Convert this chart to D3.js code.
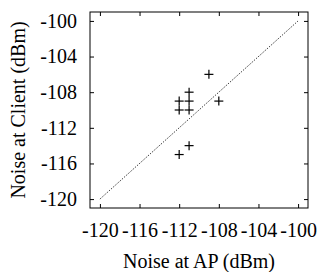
<!DOCTYPE html>
<html>
<head>
<meta charset="utf-8">
<script src="https://d3js.org/d3.v7.min.js"></script>
<style>
  body { margin: 0; background: #fff; }
  text { font-family: "Liberation Serif", "Times New Roman", serif; fill: #000; }
</style>
</head>
<body>
<div id="chart"></div>
<script>
// noise readings (dBm)
const apNoise     = [-109, -108, -111, -112, -111, -112, -111, -111, -112];
const clientNoise = [-106, -109, -108, -109, -109, -110, -110, -114, -115];
const tickValues  = [-120, -116, -112, -108, -104, -100];
const diagonal    = [-120, -100];

const width = 318, height = 272;
const margin = {top: 12, right: 10, bottom: 64, left: 90};

const svg = d3.select("#chart").append("svg")
    .attr("width", width)
    .attr("height", height);

const x = d3.scaleLinear().domain([-121, -99]).range([margin.left, width - margin.right]);
const y = d3.scaleLinear().domain([-121, -99]).range([height - margin.bottom, margin.top]);

const fmt = d => String(d).replace("\u2212", "-");

// inward ticks on all four sides
svg.append("g")
    .attr("transform", `translate(0,${y.range()[0]})`)
    .call(d3.axisBottom(x).tickValues(tickValues).tickSizeInner(-4).tickSizeOuter(0).tickPadding(15).tickFormat(fmt))
    .call(g => g.select(".domain").remove())
    .call(g => g.selectAll("text").attr("font-size", 20));

svg.append("g")
    .attr("transform", `translate(0,${y.range()[1]})`)
    .call(d3.axisTop(x).tickValues(tickValues).tickSizeInner(-4).tickSizeOuter(0).tickFormat(""))
    .call(g => g.select(".domain").remove());

svg.append("g")
    .attr("transform", `translate(${x.range()[0]},0)`)
    .call(d3.axisLeft(y).tickValues(tickValues).tickSizeInner(-4).tickSizeOuter(0).tickPadding(13).tickFormat(fmt))
    .call(g => g.select(".domain").remove())
    .call(g => g.selectAll("text").attr("font-size", 20));

svg.append("g")
    .attr("transform", `translate(${x.range()[1]},0)`)
    .call(d3.axisRight(y).tickValues(tickValues).tickSizeInner(-4).tickSizeOuter(0).tickFormat(""))
    .call(g => g.select(".domain").remove());

// frame
svg.append("rect")
    .attr("x", x.range()[0])
    .attr("y", y.range()[1])
    .attr("width", x.range()[1] - x.range()[0])
    .attr("height", y.range()[0] - y.range()[1])
    .attr("fill", "none")
    .attr("stroke", "#000")
    .attr("stroke-width", 1);

// y = x reference line
svg.append("line")
    .attr("x1", x(diagonal[0])).attr("y1", y(diagonal[0]))
    .attr("x2", x(diagonal[1])).attr("y2", y(diagonal[1]))
    .attr("stroke", "#000")
    .attr("stroke-width", 1)
    .attr("stroke-dasharray", "1,1.5");

// plus markers
const s = 4.5;
const pts = svg.append("g").selectAll("g")
    .data(apNoise.map((d, i) => [d, clientNoise[i]]))
    .join("g")
    .attr("transform", d => `translate(${x(d[0])},${y(d[1])})`);
pts.append("line").attr("x1", -s).attr("x2", s).attr("stroke", "#000").attr("stroke-width", 1.2);
pts.append("line").attr("y1", -s).attr("y2", s).attr("stroke", "#000").attr("stroke-width", 1.2);

// axis titles
svg.append("text")
    .attr("x", (x.range()[0] + x.range()[1]) / 2)
    .attr("y", 268)
    .attr("text-anchor", "middle")
    .attr("font-size", 20)
    .text("Noise at AP (dBm)");

svg.append("text")
    .attr("transform", `translate(25,${(y.range()[0] + y.range()[1]) / 2}) rotate(-90)`)
    .attr("text-anchor", "middle")
    .attr("font-size", 20)
    .text("Noise at Client (dBm)");
</script>
</body>
</html>
